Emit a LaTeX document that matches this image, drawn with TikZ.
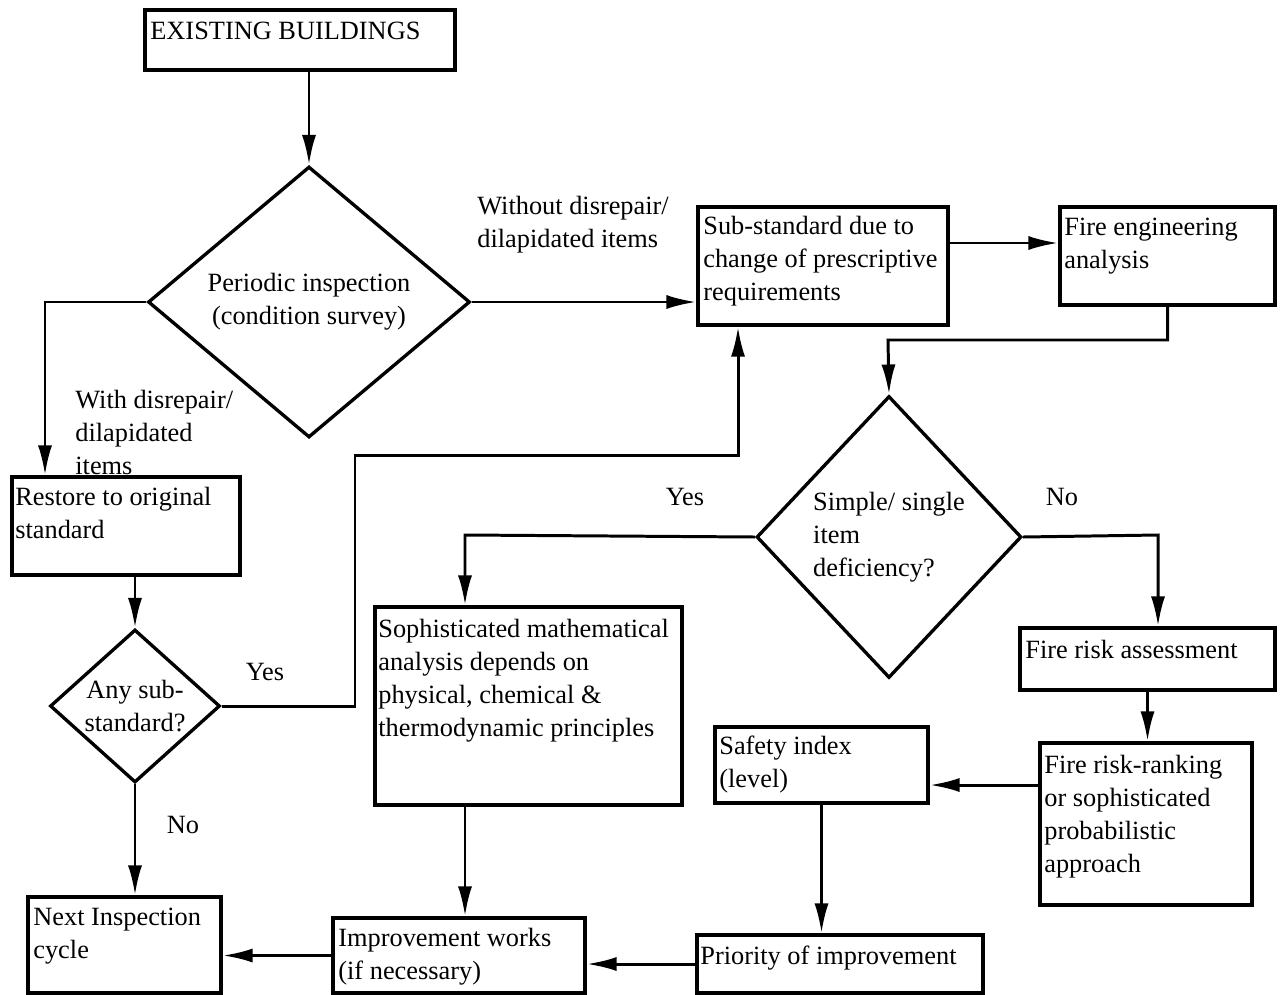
\documentclass[tikz,border=0pt]{standalone}
\usepackage{fontspec}
\setmainfont{Liberation Serif}
\usetikzlibrary{shapes.geometric,arrows.meta,fit}
\begin{document}
\begin{tikzpicture}[x=0.02cm,y=-0.02cm,
  box/.style={draw, line width=2pt, inner sep=0pt, rectangle},
  txt/.style={font=\fontsize{15}{18.7}\selectfont, align=left, inner sep=0pt, anchor=north west},
  lbl/.style={font=\fontsize{15}{18.7}\selectfont, align=left, inner sep=0pt},
  dec/.style={draw, diamond, line width=1.9pt, inner sep=0pt, align=center,
              font=\fontsize{15}{18.7}\selectfont},
  arr/.style={line width=1.7pt, -{Latex[length=17pt,width=8pt]}}]
\useasboundingbox (0,0) rectangle (1281,994);

% rectangular boxes
\node[box, fit={(145,10) (455,70)}] (eb) {};
\node[txt] (eb-t) at (150,22) {EXISTING BUILDINGS};
\node[box, fit={(698,207) (948,325)}] (sub) {};
\node[txt] (sub-t) at (703,216) {Sub-standard due to\\change of prescriptive\\requirements};
\node[box, fit={(1060,207) (1275,305)}] (fe) {};
\node[txt] (fe-t) at (1064,218) {Fire engineering\\analysis};
\node[box, fit={(12,477) (240,575)}] (rs) {};
\node[txt] (rs-t) at (15,487) {Restore to original\\standard};
\node[box, fit={(375,607) (682,805)}] (soph) {};
\node[txt] (soph-t) at (378,619) {Sophisticated mathematical\\analysis depends on\\physical, chemical \&\\thermodynamic principles};
\node[box, fit={(1020,628) (1275,690)}] (fra) {};
\node[txt] (fra-t) at (1025,640) {Fire risk assessment};
\node[box, fit={(1040,743) (1252,905)}] (frr) {};
\node[txt] (frr-t) at (1044,755) {Fire risk-ranking\\or sophisticated\\probabilistic\\approach};
\node[box, fit={(715,727) (928,803)}] (si) {};
\node[txt] (si-t) at (719,736) {Safety index\\(level)};
\node[box, fit={(28,897) (221,993)}] (ni) {};
\node[txt] (ni-t) at (33,908) {Next Inspection\\cycle};
\node[box, fit={(333,918) (585,993)}] (imp) {};
\node[txt] (imp-t) at (338,928) {Improvement works\\(if necessary)};
\node[box, fit={(697,935) (983,993)}] (pr) {};
\node[txt] (pr-t) at (700,946) {Priority of improvement};

% decisions
\node[dec, minimum width=6.44cm, minimum height=5.42cm] (pi) at (309,302) {Periodic inspection\\(condition survey)};
\node[dec, minimum width=3.4cm, minimum height=3.06cm] (any) at (135,706) {Any sub-\\standard?};
\node[dec, minimum width=5.3cm, minimum height=5.64cm, align=left] (ssd) at (889,537) {Simple/ single\\item\\deficiency?};

% bend points
\coordinate (kL) at (45,0);
\coordinate (kY1) at (355,455);
\coordinate (kY2) at (738,455);
\coordinate (kFE) at (888,340);
\coordinate (kS) at (465,535);
\coordinate (kN) at (1158,535);
\coordinate (kSE) at (0,243);
\coordinate (kR) at (0,785);

% connectors
\draw[arr] (pi.north |- eb.south) -- (pi.north);
\draw[arr] (pi.west) -- (pi.west -| kL) -- (kL |- rs.north);
\draw[arr] (pi.east) -- (pi.east -| sub.west);
\draw[arr] (sub.east |- kSE) -- (fe.west |- kSE);
\draw[arr] (fe.south) |- (kFE) -- (ssd.north);
\draw[arr] (any.north |- rs.south) -- (any.north);
\draw[arr] (any.south) -- (any.south |- ni.north);
\draw[arr] (any.east) -| (kY1) -- (kY2) -- (kY2 |- sub.south);
\draw[arr] (ssd.west) -- (kS) -- (kS |- soph.north);
\draw[arr] (ssd.east) -- (kN) -- (kN |- fra.north);
\draw[arr] (kS |- soph.south) -- (kS |- imp.north);
\draw[arr] (fra.south) -- (fra.south |- frr.north);
\draw[arr] (frr.west |- kR) -- (si.east |- kR);
\draw[arr] (si.south) -- (si.south |- pr.north);
\draw[arr] (pr.west) -- (pr.west -| imp.east);
\draw[arr] (imp.west) -- (imp.west -| ni.east);

% branch labels
\node[lbl, anchor=north west] (l-with) at (75,390) {With disrepair/\\dilapidated\\items};
\node[lbl, anchor=north west] (l-without) at (477,196) {Without disrepair/\\dilapidated items};
\node[lbl] (l-yes1) at (265,672) {Yes};
\node[lbl] (l-no1) at (183,825) {No};
\node[lbl] (l-yes2) at (685,497) {Yes};
\node[lbl] (l-no2) at (1062,497) {No};
\end{tikzpicture}
\end{document}
